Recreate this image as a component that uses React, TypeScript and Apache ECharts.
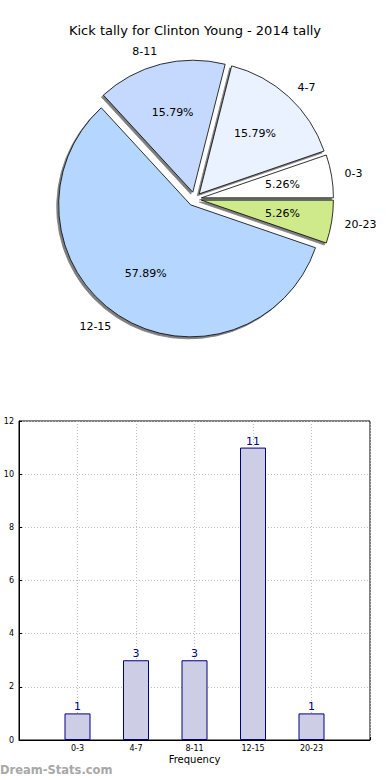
import React, { useEffect, useRef } from "react";
import * as echarts from "echarts";

const titleText = "Kick tally for Clinton Young - 2014 tally";
const categories = ["0-3", "4-7", "8-11", "12-15", "20-23"];
const counts = [1, 3, 3, 11, 1];
const sliceColors = ["#ffffff", "#ebf2ff", "#c5d9ff", "#b5d7ff", "#cfea8a"];
const yTicks = { min: 0, max: 12, interval: 2 };
const xAxisName = "Frequency";
const yAxisName = "Stat Interval";
const watermark = "Dream-Stats.com";

const FONT = "DejaVu Sans";

export default function App() {
  const ref = useRef<HTMLDivElement>(null);
  useEffect(() => {
    if (!ref.current) return;
    const chart = echarts.init(ref.current, undefined, { renderer: "svg" });
    const total = counts.reduce((a, b) => a + b, 0);
    const pieData = categories.map((c, i) => ({
      name: c,
      value: counts[i],
      selected: true,
      itemStyle: { color: sliceColors[i] },
    }));
    const overlayData = categories.map((c, i) => ({
      name: c,
      value: counts[i],
      selected: true,
    }));
    const barData = counts.map((v, i) => [i + 1, v]);
    const R = 132;
    const center = [194.5, 199];
    chart.setOption({
      animation: false,
      backgroundColor: "#ffffff",
      textStyle: { fontFamily: FONT },
      title: {
        text: titleText,
        left: "center",
        top: 19,
        textStyle: { fontFamily: FONT, fontSize: 13, fontWeight: "normal", color: "#000" },
      },
      graphic: [
        {
          type: "text",
          left: 0,
          top: 764,
          style: {
            text: watermark,
            fill: "#a8a8a8",
            font: `600 11.5px "${FONT}"`,
          },
        },
      ],
      grid: {
        left: 19,
        right: 20,
        top: 421,
        bottom: 40,
        show: true,
        containLabel: false,
        outerBoundsMode: "none",
        borderColor: "#000",
        borderWidth: 1,
        backgroundColor: "transparent",
      },
      xAxis: {
        type: "value",
        min: 0,
        max: 6,
        interval: 1,
        name: xAxisName,
        nameLocation: "middle",
        nameGap: 14,
        nameTextStyle: { fontFamily: FONT, fontSize: 10, color: "#000" },
        axisLine: { show: true, lineStyle: { color: "#000" } },
        axisTick: { show: true, inside: true, length: 3, lineStyle: { color: "#000" } },
        axisLabel: {
          fontFamily: FONT,
          fontSize: 8,
          color: "#000",
          margin: 4,
          formatter: (v: number) => categories[v - 1] ?? "",
        },
        splitLine: { show: true, lineStyle: { color: "#bdbdbd", type: [1, 2], width: 1 } },
      },
      yAxis: {
        type: "value",
        min: yTicks.min,
        max: yTicks.max,
        interval: yTicks.interval,
        name: yAxisName,
        nameLocation: "middle",
        nameGap: 16,
        nameTextStyle: { fontFamily: FONT, fontSize: 10, color: "#000" },
        axisLine: { show: true, lineStyle: { color: "#000" } },
        axisTick: { show: true, inside: true, length: 3, lineStyle: { color: "#000" } },
        axisLabel: { fontFamily: FONT, fontSize: 8, color: "#000", margin: 5 },
        splitLine: { show: true, lineStyle: { color: "#bdbdbd", type: [1, 2], width: 1 } },
      },
      series: [
        {
          type: "pie",
          center,
          radius: [0, R],
          clockwise: false,
          startAngle: 0,
          selectedMode: "multiple",
          selectedOffset: 7,
          avoidLabelOverlap: false,
          itemStyle: {
            borderColor: "#000",
            borderWidth: 0.8,
            shadowColor: "rgba(0,0,0,0.5)",
            shadowBlur: 1,
            shadowOffsetX: -2,
            shadowOffsetY: 2,
          },
          select: { itemStyle: { borderColor: "#000", borderWidth: 0.8 } },
          emphasis: { disabled: true },
          label: {
            show: true,
            position: "outside",
            formatter: "{b}",
            fontFamily: FONT,
            fontSize: 11,
            color: "#000",
            distanceToLabelLine: 0,
          },
          labelLine: { show: false, length: 13, length2: 0 },
          data: pieData,
        },
        {
          type: "pie",
          center,
          radius: [R * 0.2, R],
          clockwise: false,
          startAngle: 0,
          selectedMode: "multiple",
          selectedOffset: 7,
          silent: true,
          itemStyle: { color: "transparent", borderWidth: 0 },
          select: { itemStyle: { color: "transparent", borderWidth: 0 } },
          emphasis: { disabled: true },
          label: {
            show: true,
            position: "inside",
            formatter: (p: any) => ((p.value / total) * 100).toFixed(2) + "%",
            fontFamily: FONT,
            fontSize: 11,
            color: "#000",
          },
          labelLine: { show: false },
          data: overlayData,
        },
        {
          type: "bar",
          barWidth: 26,
          data: barData,
          itemStyle: { color: "#cdcde6", borderColor: "#000080", borderWidth: 1 },
          label: {
            show: true,
            position: "top",
            distance: 1,
            fontFamily: FONT,
            fontSize: 11,
            color: "#000080",
            formatter: (p: any) => String(p.value[1]),
          },
          emphasis: { disabled: true },
        },
      ],
    });
    return () => chart.dispose();
  }, []);
  return (
    <div
      ref={ref}
      style={{ position: "fixed", left: 0, top: 0, width: 390, height: 780 }}
    />
  );
}
